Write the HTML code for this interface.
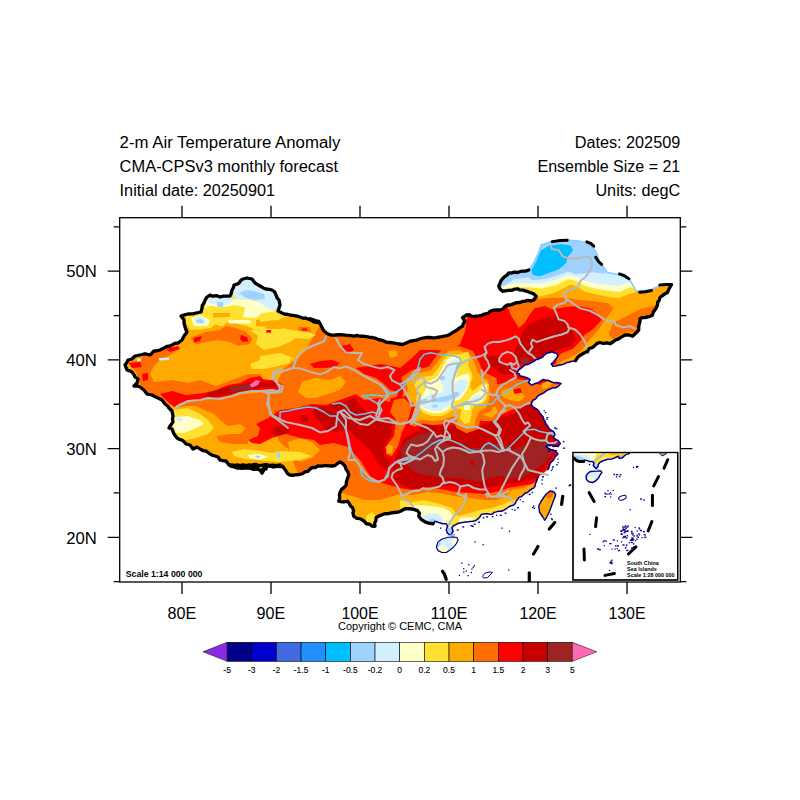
<!DOCTYPE html><html><head><meta charset="utf-8"><title>2-m Air Temperature Anomaly</title>
<style>html,body{margin:0;padding:0;background:#fff}svg{display:block}text{font-family:"Liberation Sans",sans-serif;fill:#000}</style></head><body>
<svg width="800" height="800" viewBox="0 0 800 800">
<rect width="800" height="800" fill="#fff"/>
<defs><clipPath id="cn"><path d="M125,365 L128,360 L132,359 L135,356 L140,355 L144,354 L150,355 L154,351 L160,350 L164,348 L170,346 L178,343 L182,340 L184,336 L187,332 L185,327 L184,320 L181,316 L188,314 L196,313 L201,312 L202,308 L204,303 L207,297 L210,295 L220,297 L230,296 L232,290 L234,285 L239,283 L243,279 L247,278 L252,279 L255,283 L260,286 L266,289 L272,290 L276,295 L279,300 L280,305 L278,311 L282,313 L290,315 L300,317 L308,319 L314,322 L319,323 L310,318.75 L318.75,321.25 L322.5,328.75 L327.5,333.75 L335,335 L347.5,335.5 L360,336.25 L372.5,337.5 L380,340 L390,342.5 L397.5,343.75 L402.5,344.5 L410,341.25 L420,338.75 L430,337.5 L440,337 L447.5,335.5 L455,331.25 L462.5,326.25 L465,321.25 L462.5,317.5 L466.25,315 L475,316.25 L482.5,315 L490,311.25 L500,310 L507.5,305 L520,302.5 L533.75,300 L536.25,296.25 L530,292.5 L517.5,288.75 L502.5,291.25 L498.75,286.25 L502.5,278.75 L508.75,273 L517.5,272.5 L528.75,270 L532.5,265 L538.75,252.5 L541.25,245 L552.5,241.25 L567.5,240 L580,241.25 L590,243.75 L596.25,252.5 L600,262.5 L607.5,272.5 L620,275 L630,280 L636.25,291.25 L650,290 L660,285.5 L671.25,285 L667.5,292.5 L660,297.5 L657.5,305 L652.5,315 L640,318.75 L638.75,330 L632.5,336.25 L625,335 L618.75,338.75 L610,343.75 L600,342.5 L592.5,347.5 L585,352.5 L577.5,357.5 L575.62,360.69 L570.75,361.5 L564.25,363.94 L557.75,365.56 L552.88,366.38 L551.25,363.94 L554.5,360.69 L557.75,356.62 L556.94,353.38 L552.06,351.75 L546.38,353.38 L543.12,356.62 L538.25,359.06 L531.75,362.31 L525.25,364.75 L518.75,369.62 L517.12,372.88 L520.38,376.12 L526.88,377.75 L530.12,379.38 L528.5,382.62 L531.75,385.06 L538.25,382.62 L543.12,379.38 L548,380.19 L554.5,382.62 L561,383.44 L558,386.5 L552,388 L546,391 L541.5,394 L537,397 L533.25,400 L531,403.75 L534,407.5 L538.5,410.5 L541.5,415 L543.75,419.5 L546,424 L549,428.5 L553.5,431.5 L555,434.5 L553.5,437.5 L558,440.5 L560.25,443.5 L558,446.5 L553.5,446.5 L549,445 L546,446.5 L550.5,449.5 L555,451 L558,454 L555,457 L553.5,460 L550.5,463 L549,467.5 L547.5,470.05 L538.75,476.25 L535,486.25 L527.5,492.5 L518.75,497.5 L513.75,505 L510,506.25 L506.25,508.75 L501.25,511.25 L496.25,511.88 L490,514.38 L485,513.75 L481.25,514.38 L477.5,519.38 L472.5,521.25 L467.5,521.88 L462.5,522.5 L457.5,523.75 L453.75,525.62 L451.88,527.5 L453.12,531.25 L451.25,534.38 L450,535 L447.5,533.12 L446.25,530 L447.5,526.25 L446.25,523.75 L442.5,523.75 L438.75,522.5 L435,521.25 L433.12,523.75 L433.12,523.75 L428.75,523.12 L425,521.88 L421.25,519.38 L418.75,516.25 L419.38,513.12 L417.5,510.62 L413.75,509.38 L410,508.75 L405,508.75 L395,512.5 L385,513.75 L376.25,517.5 L375,526.25 L366.25,523.75 L360,518.75 L353.75,516.25 L352.5,507.5 L347.5,501.25 L338.75,501.25 L340,492.5 L346.25,485 L348.75,475 L345,466.25 L340,462 L335,465.5 L325,465.5 L312.5,467.5 L302.5,473.75 L290,475 L282.5,466.25 L270,465.5 L261.25,471.25 L252.5,466.25 L240,467 L230,465 L280,465 L274,467 L268,466 L264,468 L262,473 L260,470 L256,469 L248,468 L240,468 L234,467 L229,465 L226,461 L220,460 L218,457 L215,456 L210,454 L206,451 L200,449 L197,447 L193,449 L190,445 L186,444 L182,440 L177,438 L174,434 L172,429 L169,428 L170,426 L173,422 L173,416 L172,411 L169,408 L165,404 L162,400 L158,398 L152,395 L147,394 L144,390 L140,387 L134,386 L137,383 L138,379 L135,377 L132,372 L127,370Z"/></clipPath><clipPath id="fr"><rect x="120" y="218" width="560" height="364"/></clipPath></defs>
<g clip-path="url(#fr)">
<g clip-path="url(#cn)"><rect x="120" y="218" width="560" height="364" fill="#ffaa00"/>
<path d="M320,325 L306,350 L296,360 L284,368 L278,380 L278,440 L290,452 L300,480 L300,600 L700,600 L700,200 L320,200Z" fill="#ff6e00"/>
<path d="M128,362 L140,360 L146,352 L160,350 L172,346 L180,348 L172,354 L160,360 L154,366 L150,374 L154,382 L172,380 L188,383 L200,380 L216,386 L232,380 L248,374 L260,374 L264,382 L280,383 L280,390 L260,390 L240,394 L220,398 L200,400 L180,404 L172,406 L160,398 L148,392 L140,384 L136,372Z" fill="#ff6e00"/>
<path d="M176,408 L186,403 L204,400 L224,398 L244,394 L264,392 L282,391 L282,436 L272,434 L258,436 L248,440 L248,444 L232,444 L220,442 L216,436 L232,434 L240,434 L246,428 L240,424 L228,426 L220,420 L214,414 L204,410 L196,406 L186,406Z" fill="#ff6e00"/>
<path d="M190,338 L206,332 L220,330 L226,326 L236,328 L246,332 L252,338 L250,344 L238,346 L230,342 L218,340 L206,342 L196,344.4Z" fill="#ff6e00"/>
<path d="M264,329 L272,328.6 L273,333.6 L265,334.4Z" fill="#ff6e00"/>
<path d="M298,327 L310,327 L311,332 L299,332.4Z" fill="#ff6e00"/>
<path d="M302,382 L316,378 L330,380 L340,376 L346,382 L340,390 L328,394 L316,398 L306,398 L298,392Z" fill="#ffaa00"/>
<path d="M388,351 L396,350 L398,356 L390,358Z" fill="#ffaa00"/>
<path d="M288,442 L300,438 L312,442 L320,450 L312,458 L300,462 L290,456Z" fill="#ffaa00"/>
<path d="M260,448 L272,446 L288,448 L290,462 L272,464 L260,462Z" fill="#ffaa00"/>
<path d="M532.75,295.31 L538.69,298.88 L551.75,297.69 L566,297.69 L580.25,300.06 L594.5,301.25 L608.75,303.62 L613.5,308.38 L606.38,317.88 L601.62,325 L596.88,332.12 L589.75,339.25 L585,346.38 L577.88,353.5 L568.38,358.25 L558.88,363 L554.12,372.5 L680,372.5 L680,230 L532.75,230Z" fill="#ffaa00"/>
<path d="M613.5,322.62 L623,317.88 L632.5,313.12 L642,308.38 L653.88,306 L663.38,300.06 L661,310.75 L653.88,314.31 L642,317.88 L639.62,327.38 L634.88,333.31 L627.75,332.12 L620.62,334.5 L613.5,339.25 L608.75,334.5 L611.12,327.38Z" fill="#ff6e00"/>
<path d="M330,480 L340,492 L352,496 L364,500 L380,500 L400,494 L412,495 L428,492 L444,494 L460,497 L470,498 L484,500 L496,500 L506,496 L512,490 L524,488 L540,480 L560,470 L560,600 L330,600Z" fill="#ffaa00"/>
<path d="M186,315 L204,309 L208,298 L230,297 L236,282 L245,278 L252,279 L260,287 L270,289 L278,296 L280,304 L278,312 L290,315 L284,317.6 L278,320 L270,322.4 L264,328.4 L256,330 L248,326.4 L236,323.2 L228,322 L222,326.4 L215,324.4 L211,328 L200,329.6 L190,330 L186,322Z" fill="#ffe132"/>
<path d="M213,313 L230,313 L230,317 L213,317.6Z" fill="#ffaa00"/>
<path d="M256,320 L274,318 L276,321 L264,327 L256,326Z" fill="#ffaa00"/>
<path d="M250,330 L258,330 L266,336 L274,336 L282,328 L292,330 L298,336 L290,342 L278,347 L264,350 L256,344 L258,336Z" fill="#ffe132"/>
<path d="M250,364 L260,360 L274,358 L288,359 L290,363 L278,366 L264,369 L252,369Z" fill="#ffe132"/>
<path d="M260,328 L276,329 L292,330 L308,332 L316,335 L308,339 L292,338 L276,337 L260,338Z" fill="#ffe132"/>
<path d="M260,314 L272,315 L276,320 L260,322Z" fill="#ffe132"/>
<path d="M260,356 L280,353 L294,358 L286,364 L272,366 L260,365Z" fill="#ffe132"/>
<path d="M174,410 L188,408 L200,414 L208,420 L214,428 L208,434 L196,438 L186,440 L176,438 L170,428 L173,418Z" fill="#ffe132"/>
<path d="M232,452 L244,449 L260,451 L272,453 L280,451 L300,452 L312,456 L300,460 L280,462 L268,461 L256,460 L244,459 L234,456Z" fill="#ffe132"/>
<path d="M494.75,293.65 L513.75,293.65 L532.75,297.45 L542.25,296.02 L551.75,293.65 L561.25,289.38 L570.75,284.62 L577.88,287 L585,291.75 L596.88,294.6 L608.75,296.98 L618.25,298.16 L627.75,294.6 L637.25,291.75 L637.25,230 L494.75,230Z" fill="#ffe132"/>
<path d="M366,516 L372,512 L378,518 L378,530 L366,526Z" fill="#ffe132"/>
<path d="M400,500 L412,502 L424,500 L440,504 L452,508 L458,516 L466,514 L480,510 L492,508 L504,504 L512,500 L520,500 L520,540 L400,540Z" fill="#ffe132"/>
<path d="M207,299 L230,297.6 L236,299 L250,300 L260,302 L270,308 L275,311.4 L262,313 L256,318 L243,317.2 L245,307 L234,305.2 L220,307.4 L210,305.6 L204.4,309Z" fill="#ffffc8"/>
<path d="M228,320 L250,320 L251,323.6 L229,323.6Z" fill="#ffffc8"/>
<path d="M191,318 L200,315 L210,320 L208,326 L194,326Z" fill="#ffffc8"/>
<path d="M175,417 L188,416 L200,420 L204,424 L196,428 L184,433 L176,433 L173,426Z" fill="#ffffc8"/>
<path d="M248,455 L260,454 L268,457 L260,459.6 L250,458.4Z" fill="#ffffc8"/>
<path d="M494.75,290.09 L504.25,289.38 L513.75,287.24 L528,287.24 L542.25,288.43 L556.5,284.86 L568.38,278.93 L576.69,281.3 L585,286.05 L596.88,288.9 L608.75,290.8 L619.44,291.99 L630.12,287.24 L636.06,287.95 L637.25,230 L494.75,230Z" fill="#ffffc8"/>
<path d="M236,282 L245,278 L252,279 L260,287 L270,289 L278,296 L280,304 L276,311 L266,307 L258,301.4 L248,300 L236,298.4 L231.6,292Z" fill="#d2f0ff"/>
<path d="M208,298 L230,297 L235,299 L230,303 L222,307 L213,304 L207,302Z" fill="#d2f0ff"/>
<path d="M193.6,319 L200,316.4 L206,320 L204,324.4 L196,323.6Z" fill="#d2f0ff"/>
<path d="M176,418 L182,417 L184,420 L178,422Z" fill="#d2f0ff"/>
<path d="M137,359 L141,358.4 L141,361 L137,361.4Z" fill="#d2f0ff"/>
<path d="M159,358 L169,357.6 L169,360 L159,360.4Z" fill="#d2f0ff"/>
<path d="M494.75,287.71 L499.5,287 L513.75,283.44 L528,283.44 L542.25,283.44 L556.5,279.4 L568.38,274.65 L577.88,277.26 L585,280.82 L596.88,283.44 L608.75,285.1 L619.44,286.29 L627.75,282.73 L634.88,285.1 L637.25,230 L494.75,230Z" fill="#d2f0ff"/>
<path d="M239,293 L246,290 L254,291 L264,294 L265,299 L256,300 L246,298Z" fill="#a0d2ff"/>
<path d="M217,302 L223,302 L223,307 L217.6,307Z" fill="#a0d2ff"/>
<path d="M196,320 L202,319 L204,323 L198,323Z" fill="#a0d2ff"/>
<path d="M255,456.4 L258,455.2 L261,456.8 L258,458.4Z" fill="#a0d2ff"/>
<path d="M276,454 L280,452 L280,458 L277,457.6Z" fill="#a0d2ff"/>
<path d="M497.12,287 L504.25,285.81 L513.75,279.16 L528,277.5 L532.75,280.35 L547,278.69 L558.88,275.12 L568.38,271.56 L575.5,273.94 L585,273.23 L594.5,272.27 L604,273.94 L608.75,270.38 L608.75,230 L497.12,230Z" fill="#a0d2ff"/>
<path d="M531.56,270.38 L536.31,260.88 L541.06,250.19 L549.38,245.44 L561.25,244.25 L570.75,245.44 L573.12,250.19 L568.38,256.12 L566,263.25 L558.88,269.19 L549.38,272.75 L539.88,276.31 L532.75,275.12Z" fill="#00bfff"/>
<path d="M160,394 L172,391 L186,395 L204,393 L216,390 L228,385 L240,383 L250,378 L260,376 L264,380 L264,387 L280,386 L280,390 L264,391 L244,392.4 L228,396 L208,399 L192,400 L180,403 L174,407 L168,402Z" fill="#ff0000"/>
<path d="M129,363 L140,362 L142,367 L132,368Z" fill="#ff0000"/>
<path d="M142,374 L148,373 L148,380 L143,381Z" fill="#ff0000"/>
<path d="M166,349 L178,346 L180,349 L170,352Z" fill="#ff0000"/>
<path d="M241,335 L247,337 L248.4,341.6 L243,342 L240,339Z" fill="#ff0000"/>
<path d="M193.6,338 L202,336 L200,341 L194,342.4Z" fill="#ff0000"/>
<path d="M266.4,330 L271,330 L271,332.8 L266.4,332.8Z" fill="#ff0000"/>
<path d="M302,328.4 L307,328.4 L307,330.4 L302,330.4Z" fill="#ff0000"/>
<path d="M310,364 L320,361 L332,360 L340,363 L336,367 L324,368 L314,368Z" fill="#ff0000"/>
<path d="M342,346 L350,344 L354,350 L348,354 L343,351Z" fill="#ff0000"/>
<path d="M260,379 L272,380 L282,384 L280,390 L268,390 L260,389Z" fill="#ff0000"/>
<path d="M356,368 L368,366 L380,364 L392,366 L400,368 L412,358 L420,350 L436,350 L450,352 L460,344 L465,332 L468,312 L480,310 L495,306 L506,303 L510.6,314.4 L515.5,322.5 L518.75,328 L525,322.5 L530,314 L535,308 L545,306 L552,309.6 L566,307 L578,306 L590,308.4 L597,313 L601.6,320 L597,325 L592,330 L585,334.5 L580,341.6 L573,348.75 L561,353.5 L556.5,359.4 L556,364 L545,368 L535,372 L535,384 L545,378 L562,382 L548,392 L540,400 L560,430 L565,445 L556,456 L548,468 L540,478 L532,484 L520,486 L508,488 L496,492 L484,494 L472,493 L456,492 L440,489 L426,487 L412,490 L400,488 L396,487 L382,483 L370,476 L360,460 L348,447 L334,443 L320,445 L314,440 L300,438 L286,434 L272,438 L260,444 L252,443 L248,440 L258,436 L260,428 L256,424 L264,420 L268,418 L280,410 L296,408 L312,404 L326,405 L340,400 L356,394 L364,400 L380,398 L388,402 L396,400 L398,392 L390,390 L384,384 L376,378 L364,374Z" fill="#ff0000"/>
<path d="M206,393.6 L216,390.4 L228,387 L240,384.4 L248,383 L260,383 L260,388 L244,391 L228,394 L214,397 L206,397Z" fill="#c80000"/>
<path d="M274,428 L280,427 L280,434 L274,434Z" fill="#c80000"/>
<path d="M314,408 L326,406 L340,404 L354,398 L360,404 L368,414 L380,418 L392,422 L396,434 L392,448 L384,454 L380,446 L372,438 L364,430 L356,428 L344,430 L336,432 L326,430 L320,422 L312,414Z" fill="#c80000"/>
<path d="M271,430 L278,426 L288,427 L290,432 L280,435 L272,434Z" fill="#c80000"/>
<path d="M300,417 L304,414 L309,417 L307,422 L301,421.6Z" fill="#c80000"/>
<path d="M260,382 L276,382.4 L276,387 L260,387Z" fill="#c80000"/>
<path d="M320,409 L320,422 L332,426 L338,418 L346,426 L356,438 L366,446 L374,456 L380,466 L388,470 L390,462 L396,456 L400,448 L394,442 L388,452 L384,448 L388,440 L392,430 L388,422 L380,418 L368,420 L356,416 L344,412 L336,408 L328,407Z" fill="#c80000"/>
<path d="M396,448 L404,438 L416,432 L432,430 L444,426 L460,426 L480,428 L480,484 L468,486 L456,484 L444,486 L432,486 L420,489 L408,488 L400,484 L394,478 L392,468 L396,458Z" fill="#c80000"/>
<path d="M420,424 L440,426 L460,428 L480,426 L500,418 L520,412 L540,412 L552,420 L560,440 L556,452 L544,470 L536,478 L524,482 L508,484 L496,486 L484,488 L472,488 L456,486 L440,482 L424,480Z" fill="#c80000"/>
<path d="M523.25,329.75 L532.75,322.62 L544.62,317.88 L556.5,315.5 L566,320.25 L568.38,327.38 L573.12,332.12 L575.5,339.25 L570.75,346.38 L561.25,348.75 L554.12,351.12 L542.25,355.88 L532.75,363 L525.62,367.75 L518.5,363 L513.75,353.5 L518.5,341.62Z" fill="#c80000"/>
<path d="M520,407.5 L530,404 L542.5,405.5 L547.5,420 L522.5,423.75 L510,420Z" fill="#c80000"/>
<path d="M487.06,356.62 L497.62,355 L500.88,361.5 L510.62,366.38 L517.12,371.25 L513.88,374.5 L502.5,374.5 L494.38,368 L487.88,364.75Z" fill="#c80000"/>
<path d="M229,388 L240,385 L250,384 L258,386 L248,389.6 L232,392.4Z" fill="#a02323"/>
<path d="M400,450 L408,440 L420,434 L432,433 L440,438 L448,446 L460,448 L480,448 L480,478 L468,480 L456,476 L444,478 L432,476 L420,474 L412,470 L404,462Z" fill="#a02323"/>
<path d="M420,435 L430,432 L440,440 L452,446 L466,448 L480,448 L488,444 L504,444 L512,450 L524,446 L536,440 L548,442 L555,450 L547,460 L537.6,467.6 L526,475.6 L512,479 L500,476 L488,478 L480,482 L472,480 L460,478 L448,478 L436,474 L424,471Z" fill="#a02323"/>
<path d="M519.69,358.25 L528,357.06 L529.9,365.38 L522.06,367.27Z" fill="#a02323"/>
<path d="M470.4,461 L473.6,459.6 L474.8,464.4 L471.2,466Z" fill="#c80000"/>
<path d="M249.6,385 L256,380 L260,381 L258,385 L252,387.6Z" fill="#ff69b4"/>
<path d="M484.5,379 L495,385 L507,382 L516,379 L528,380.5 L540,385 L547.5,382 L555,383.5 L561,384.25 L547.5,391 L538.5,395.5 L534,400 L528,404.5 L519,407.5 L510,410.5 L501,415 L492,421 L480,421 L477,415 L486,407.5 L489,397 L487.5,388Z" fill="#ff6e00"/>
<path d="M501,391 L510,388 L520.5,391 L525,397 L519,401.5 L510,400 L502.5,397Z" fill="#ffaa00"/>
<path d="M484.5,404.5 L495,406 L498,412 L492,418 L483,415Z" fill="#ffaa00"/>
<path d="M541.5,383.5 L547.5,381.25 L553.5,382.75 L547.5,388 L542.25,388.75Z" fill="#ffaa00"/>
<path d="M513,389.5 L520.5,388 L522,392.5 L514.5,394Z" fill="#ff0000"/>
<path d="M401.38,377.12 L412.75,369.81 L422.5,368.19 L429,366.56 L433.88,359.25 L438.75,352.75 L446.88,347.06 L459.88,346.25 L472.88,351.12 L478.56,360.88 L481.81,369.81 L487.5,373.88 L496.44,377.94 L498.06,391.75 L496.44,403.12 L490.75,411.25 L482.62,414.5 L480.19,419.38 L478.56,429.12 L466.38,433.19 L456.62,428.31 L453.38,420.19 L448.5,421.81 L442,424.25 L432.25,425.06 L422.5,423.44 L414.38,426.69 L404.62,420.19 L400.56,408 L402.19,398.25 L403.81,388.5Z" fill="#ff6e00"/>
<path d="M406.25,378.75 L414.38,373.88 L422.5,372.25 L430.62,370.62 L437.12,362.5 L442,356 L448.5,351.12 L459.88,350.31 L469.62,354.38 L474.5,362.5 L477.75,372.25 L481.81,377.12 L488.31,380.7 L489.94,391.75 L488.8,401.5 L485.55,408 L479.38,411.25 L476.12,417.75 L474.5,425.88 L466.38,429.12 L458.25,424.25 L455,416.12 L448.5,417.75 L442,420.19 L432.25,421 L422.5,419.38 L414.38,422.62 L407.88,417.75 L404.62,408 L406.25,398.25 L407.88,388.5Z" fill="#ffaa00"/>
<path d="M417.62,378.75 L422.5,377.12 L432.25,375.5 L438.75,367.38 L443.62,359.25 L448.5,354.38 L458.25,354.38 L463.94,352.91 L468,351.94 L469.95,356.98 L468,363.96 L469.95,369.98 L473.04,375.01 L472.06,382 L469.95,388.01 L474.01,389.96 L480.02,384.93 L486.04,382 L488.96,384.93 L487.99,391.91 L486.04,400.04 L481.98,403.94 L474.01,406.05 L472.06,409.95 L471.25,416.12 L469.62,422.62 L464.75,424.25 L459.88,417.75 L461.5,409.62 L455,408 L448.5,412.88 L442,416.12 L432.25,416.12 L424.12,413.69 L417.62,408 L416,399.88 L417.62,391.75 L414.38,385.25Z" fill="#ffe132"/>
<path d="M424.12,383.62 L430.62,380.38 L437.12,377.12 L443.62,365.75 L446.88,359.25 L451.75,356.81 L459.06,357.62 L459.88,362.5 L457.44,372.25 L455,378.75 L454.19,388.5 L455,398.25 L452.56,403.94 L448.5,409.62 L442,412.88 L433.88,413.69 L425.75,411.25 L419.25,406.38 L419.25,401.5 L422.5,395 L425.75,388.5Z" fill="#ffffc8"/>
<path d="M455,377.94 L459.06,375.99 L463.94,374.04 L468.98,373.55 L469.95,377.94 L468.98,383.95 L467.02,389.96 L462.96,395.98 L459.06,400.04 L455,401.01 L453.54,395.98 L454.51,387.04Z" fill="#ffffc8"/>
<path d="M467.02,401.99 L472.06,395.98 L478.07,391.99 L484.01,383.95 L487.01,384.93 L486.04,394.02 L481.98,401.99 L474.01,404.43 L468,404.99Z" fill="#ffffc8"/>
<path d="M471.25,370.62 L477.75,373.88 L481.81,378.75 L477.75,386.88 L472.06,390.94 L470.44,383.62 L472.88,377.12Z" fill="#ffaa00"/>
<path d="M463.94,404.99 L469.95,405.48 L469.95,409.95 L464.51,409.95Z" fill="#ffffc8"/>
<path d="M419.25,403.12 L422.5,398.25 L429,395 L433.88,390.12 L440.38,383.62 L443.62,377.12 L445.25,369 L448.5,362.5 L455,359.25 L459.06,360.88 L458.25,367.38 L455,373.88 L453.38,382 L452.56,390.12 L453.38,398.25 L451.75,403.12 L448.5,406.38 L442,409.62 L435.5,411.25 L429,409.62 L422.5,407.19Z" fill="#d2f0ff"/>
<path d="M455.49,382 L460.04,380.05 L466.05,380.05 L468,382.98 L466.05,388.99 L461.99,394.02 L458.01,398.01 L455,398.01 L454.02,391.99Z" fill="#d2f0ff"/>
<path d="M468.98,401.01 L474.01,395.98 L480.02,394.02 L481.98,395.98 L480.02,401.01 L474.01,402.48Z" fill="#d2f0ff"/>
<path d="M454.51,391.99 L458.51,391.49 L459.01,395 L455.49,397.5 L454.02,395.98Z" fill="#a0d2ff"/>
<path d="M426.56,383.62 L437.12,381.68 L443.62,385.25 L442,392.56 L433.88,393.38 L426.56,391.75Z" fill="#ffffc8"/>
<path d="M439.56,376.31 L444.44,375.5 L445.25,379.56 L440.7,380.7Z" fill="#a0d2ff"/>
<path d="M430.62,399.06 L438.75,397.44 L446.88,395.81 L452.56,394.19 L453.38,398.25 L446.88,401.5 L438.75,402.31 L431.44,402.31Z" fill="#a0d2ff"/>
<path d="M432.25,404.75 L437.12,404.43 L437.45,407.19 L432.57,407.51Z" fill="#a0d2ff"/>
<path d="M420.88,399.88 L426.56,398.25 L427.38,401.5 L421.69,403.12Z" fill="#a0d2ff"/>
<path d="M391,398 L406,396 L415,406 L411,421 L405,433 L401,447 L394,459 L384,457 L385,444 L391,436 L393,420 L387,412Z" fill="#ff0000"/>
<path d="M394,400 L404,398 L412,406 L408,420 L402,432 L398,446 L392,456 L386,454 L388,444 L394,436 L396,420 L390,412Z" fill="#ff6e00"/>
<path d="M385.6,447 L389,444 L393,447 L392,453 L387,453.6Z" fill="#ffaa00"/>
<path d="M410,506.25 L420,505 L432.5,506.25 L442.5,507.5 L450,511.25 L453.75,517.5 L451.25,522.5 L446.25,524.38 L435,521.88 L425,521.25 L417.5,515 L410,511.25Z" fill="#ffffc8"/>
<path d="M422.5,516.25 L428.75,513.75 L437.5,513.75 L443.12,518.12 L443.75,523.12 L435,521.88 L426.25,521.25Z" fill="#d2f0ff"/>
<path d="M428.75,519.38 L434.38,518.5 L435.62,521.5 L430,522Z" fill="#a0d2ff"/>
<path d="M446.62,524 L453.12,526.25 L453.38,531.25 L451.5,534.75 L449.38,534.75 L446.5,530Z" fill="#d2f0ff"/>
<path d="M448.12,527.5 L451.88,528.12 L451.88,533.12 L449.75,533.75 L447.88,530.62Z" fill="#a0d2ff"/>
<path d="M459.38,518.12 L467.5,516.88 L475,517.5 L472.5,521.25 L463.75,522.25 L458.75,521.88Z" fill="#ffffc8"/>
</g>
<g fill="none" stroke="#6ec6ee" stroke-width="1.5" stroke-linejoin="round">
<path d="M452.55,407.8 L459,405.7 L468,403.75 L480,405.25 L492,403.75 L498,397 L507,391 L516,385 L525,381.25 L531,379.75"/>
<path d="M480,451.75 L484.5,445 L489,442.75 L495,446.5 L501,451 L507,449.5 L511.5,445 L516,440.5 L522,434.5 L526.5,430 L534,429.25 L540,431.5 L547.5,433 L553.5,432.25"/>
<path d="M280,419 L280,412 L288,411 L296,409 L308,407 L316,408 L324,412 L330,416 L336,416"/>
<path d="M332,404 L340,403 L346,406 L350,412 L356,415 L364,414 L372,412 L380,414 L382,410 L378,404 L368,398 L362,396 L372,395 L384,396 L396,392 L402,388 L404,384"/>
<path d="M380.25,383.62 L385.12,388.5 L390,393.38 L396.5,392.56 L401.38,388.5 L406.25,383.62 L411.12,375.5 L417.62,369 L420.06,359.25 L424.12,354.38 L430.62,352.75 L438.75,354.38 L446.88,355.19 L455,356 L459.88,358.44 L461.5,362.5 L458.25,367.38 L455,373.88 L452.56,382 L452.56,390.12 L454.19,398.25 L451.75,404.75 L452.56,408"/>
<path d="M336,416 L344,426 L348,436 L350,446 L354,458 L360,466 L362,476 L368,480 L376,482 L384,480 L390,468 L396,462 L406,460 L414,458 L422,452 L432,444 L440,440 L450,440 L460,444 L470,450 L480,452"/>
</g>
<g fill="none" stroke="#b9b9b9" stroke-width="2" stroke-linejoin="round" stroke-linecap="round">
<path d="M175,409 L180,405 L188,401 L200,400 L208,398 L220,399 L232,396 L240,393 L252,391 L260,391 L268,393"/>
<path d="M268,393 L278,392.4 L280,388 L275,380 L273,373 L280,369"/>
<path d="M326,336 L324.4,341 L310,347 L300,353 L296,360 L293,368 L274,374 L272,377 L278,384 L283,387 L281,392 L272,390 L260,391"/>
<path d="M268,393 L269,398 L267,404 L270,410 L272,416 L278,420 L288,428"/>
<path d="M268,398 L269,406 L270,414 L280,419.4 L286,422 L300,425 L312,428 L320,432.4 L328,431 L336,426.4 L337,418 L338,412.4 L344,410 L348,414 L354,420.4 L360,424 L368,425 L376,419.4 L380,419"/>
<path d="M293,368 L300,368.4 L312,372.4 L320,374.4 L326,372.4 L334,367 L340,368.4 L346,366.4 L354,370 L364,376 L372,380 L380,384.4 L385,390 L388,396 L384,400 L380,404 L378,410 L376,416 L380,419"/>
<path d="M336,338 L340,346 L346,352.4 L356,353 L362,353 L358,360 L364,364 L372,366.4 L380,368.4 L388,367 L394.4,370 L390,376 L392,380.4 L400,384.4 L404.4,382 L412,378 L418,372.4 L420,368"/>
<path d="M380,419 L388,418 L396,422.4 L400,424.4 L408,422.4 L412,419.4 L416,410 L420,404"/>
<path d="M400,384.4 L404.4,390 L408.4,398 L412,406 L418,404 L420,398"/>
<path d="M417.62,369 L414.38,372.25 L411.94,377.12 L414.38,382 L418.44,378.75 L421.69,377.12 L424.12,378.75 L424.94,382 L420.88,385.25 L417.62,386.88 L416.81,391.75 L420.06,395 L418.44,399.88 L416.81,404.75 L419.25,408 L417.62,414.5 L412.75,417.75 L411.12,424.25"/>
<path d="M424.94,382 L430.62,383.62 L437.12,380.38 L442,373.88 L445.25,369 L446.88,365.75 L451.75,364.12 L458.25,363.31 L463.12,362.5 L471.25,358.44 L481,356 L486.69,352.75 L484.57,346.9"/>
<path d="M424.94,382 L425.75,386.88 L432.25,388.5 L437.12,390.94 L435.5,395 L432.25,396.62 L435.5,399.88 L429,401.5 L422.5,403.12 L419.25,401.5"/>
<path d="M458.25,363.31 L455,373.88 L452.56,382 L452.56,390.12 L454.19,398.25 L451.75,404.75 L452.56,408 L455,411.25 L456.62,417.75 L450.12,421 L446.88,425.88 L445.25,432.38 L443.62,440.01"/>
<path d="M567.5,299.75 L564.25,303 L557.75,304.62 L553.69,307.88 L556.12,312.75 L558.56,319.25 L564.25,320.88 L567.5,324.12 L569.12,329 L567.5,332.25 L561,334.69 L554.5,336.31 L546.38,338.75 L541.5,340.38 L536.62,342 L532.56,339.56 L530.94,343.62 L532.56,346.88 L530.12,350.12 L528.5,353.38 L531.75,355 L535,358.25 L537.44,359.88"/>
<path d="M528.5,353.38 L525.25,350.12 L520.38,343.62 L518.75,338.75 L515.5,336.31 L510.62,338.75 L505.75,340.38 L499.25,342 L492.75,342 L487.88,343.62 L484.62,346.88 L486.25,351.75 L484.62,356.62 L487.88,361.5 L489.5,366.38 L486.25,371.25 L482.19,376.12"/>
<path d="M499.25,358.25 L502.5,354.19 L507.38,351.75 L512.25,353.38 L515.5,356.62 L517.12,361.5 L513.88,364.75 L510.62,363.12 L507.38,364.75 L502.5,363.12 L499.25,361.5 L499.25,358.25"/>
<path d="M510.62,363.12 L512.25,368 L517.12,369.62 L518.75,366.38 L517.12,361.5"/>
<path d="M550.56,245.44 L551.75,249 L558.88,250.19 L562.44,256.12 L568.38,258.5 L577.88,258.5 L585,256.12 L590.94,258.5 L592.12,265.62 L588.56,272.75 L585,277.5 L580.25,281.06 L577.88,287 L570.75,289.38 L563.62,292.94 L566,298.88 L568.38,300.06"/>
<path d="M568.38,300.06 L573.12,303.62 L580.25,308.38 L589.75,310.75 L596.88,314.31 L604,319.06 L608.75,321.44 L613.5,320.25 L615.88,325 L623,327.38 L630.12,326.19 L634.88,328.56"/>
<path d="M568.38,327.38 L575.5,329.75 L580.25,334.5 L585,341.62 L587.38,348.75 L588.56,353.5"/>
<path d="M508,450 L520,456 L524,462 L528,470 L540,473 L548,475"/>
<path d="M520,456 L516,462 L512,468 L508,476 L504,484 L500,492 L496,497 L504,496 L510,498 L514,504"/>
<path d="M466,494 L464,504 L460,510 L454,516 L450,522 L448,526"/>
<path d="M346,430 L348,440 L350,452 L348,460 L356,460 L360,466 L364,472 L370,478 L378,482 L384,480 L388,476 L389,468 L396,462 L404,464 L412,460 L416,458"/>
<path d="M340,412 L346,420 L346,430"/>
<path d="M340,412 L348,418 L360,420 L370,416 L378,420 L380,412 L378,404 L380,400"/>
<path d="M378,420 L388,422 L400,424 L410,422 L416,418 L418,410 L420,400"/>
<path d="M510,370 L514.5,373 L516,377.5 L510,380.5 L502.5,385 L498,389.5 L496.5,394 L493.5,395.5 L486,392.5 L481.5,389.5"/>
<path d="M481.5,370 L482.25,377.5 L483.75,385 L486,392.5 L481.5,398.5 L474,401.5 L466.5,402.25 L459,405.25 L452.55,407.95"/>
<path d="M496.5,394 L499.5,400 L505.5,406 L510,405.25 L514.5,407.5 L520.5,407.5 L525,404.5 L529.5,403 L531.75,403.75"/>
<path d="M505.5,406 L502.5,410.5 L499.5,413.5 L498,418 L493.5,421.75 L496.5,425.5 L499.5,428.5 L498,434.5 L501,440.5 L502.5,446.5 L504,450.25"/>
<path d="M514.5,407.5 L519,413.5 L522,419.5 L525,424 L528,422.5 L530.25,425.5 L526.5,428.5 L523.5,431.5 L526.5,434.5 L531,437.5 L534,439 L540,440.5 L546,440.5 L547.5,434.5 L550.5,433 L553.5,434.5"/>
<path d="M531,437.5 L528,443.5 L525,449.5 L522,454 L523.5,460 L525,466 L523.5,470.05 L520.5,475 L519,479.5"/>
<path d="M546,440.5 L549,443.5 L555,442.75 L558,440.5"/>
<path d="M412.5,422 L420,425 L427.5,428 L433.5,432.5 L436.5,437 L441,435.5 L447,437.75 L450,435.5 L445.5,429.5 L444,423.5 L445.5,420.5 L453,421.25 L456,417.5 L454.5,413 L456,410"/>
<path d="M445.5,420.5 L453,422 L460.5,425 L468,428 L475.5,426.5 L483,429.5 L489,432.5 L495,435.5 L499.5,434 L501,429.5 L498,425 L495,422 L498,417.5 L501,413 L505.5,410"/>
<path d="M433.5,432.5 L430.5,437 L427.5,441.5 L423,444.5 L417,446 L411,444.5 L408,449 L406.5,453.5 L411,456.5 L415.5,458 L420,459.5 L427.5,455 L432,456.5 L435,461 L438,459.5 L436.5,453.5 L435,449 L438,444.5 L441,442.25 L445.5,440 L450,438.5 L450,435.5"/>
<path d="M438,447.5 L442.5,452 L447,449 L453,447.5 L459,448.25 L465,450.5 L469.5,452.75 L475.5,452 L480,451.25"/>
<path d="M442.5,452 L444,458 L443.25,465.5 L441,470 L439.5,474.5 L442.5,477.5 L444,482 L442.5,483.5"/>
<path d="M480,451.25 L483,455 L484.5,462.5 L482.25,470 L483,477.5 L484.5,485 L486,489.5 L489,494 L487.5,497"/>
<path d="M480,451.25 L486,450.5 L492,450.5 L498,452 L504,450.5 L510,449"/>
<path d="M495,435.5 L498,440 L501,446 L502.5,450.5"/>
<path d="M442.5,483.5 L439.5,486.5 L433.5,488 L427.5,489.5 L423,488 L418.5,491 L412.5,491 L406.5,494 L402,495.5 L400.5,492.5 L397.5,486.5 L394.5,482 L391.5,477.5 L393,473 L397.5,470 L402,468.5 L400.5,464 L397.5,461 L402,459.5 L406.5,458 L411,456.5"/>
<path d="M442.5,483.5 L450,482 L456,483.5 L460.5,486.5 L459,491 L457.5,494 L462,495.5 L466.5,497"/>
<path d="M460.5,486.5 L468,485 L474,488 L480,489.5 L486,489.5"/>
<path d="M486,494 L492,497 L498,495.5 L502.5,494 L508.5,491"/>
<path d="M402,495.5 L403.5,500 L409.5,501.5 L412.5,506 L414,510.05"/>
</g>
<path d="M575.62,360.69 L572.87,361.15 L570.75,361.5 L568.43,362.44 L566.57,362.61 L564.25,363.94 L561.5,364.88 L559.63,364.7 L557.75,365.56 L555.91,365.93 L552.88,366.38 L551.25,363.94 L553.28,362.29 L554.5,360.69 L556.29,358.24 L557.75,356.62 L556.94,353.38 L554.66,353.01 L552.06,351.75 L549.25,352.85 L546.38,353.38 L544.96,354.48 L543.12,356.62 L540.99,357.95 L538.25,359.06 L535.84,359.58 L534.36,361.19 L531.75,362.31 L529.85,363.58 L527.67,364.44 L525.25,364.75 L522.96,366.73 L520.85,368.52 L518.75,369.62 L517.12,372.88 L519.2,374.02 L520.38,376.12 L522.11,376.32 L525.27,377.13 L526.88,377.75 L530.12,379.38 L528.5,382.62 L531.75,385.06 L534.07,384.01 L536.09,383.3 L538.25,382.62 L540.51,381.1 L543.12,379.38 L545.66,380.27 L548,380.19 L550.39,381.51 L552.76,382.4 L554.5,382.62 L557.96,382.63 L561,383.44 L558,386.5 L555.43,387.81 L552,388 L550.49,389.08 L548.26,389.65 L546,391 L544.15,392.59 L541.5,394 L538.99,394.98 L537,397 L535.55,399.09 L533.25,400 L531,403.75 L532.01,405.99 L534,407.5 L536.14,408.58 L538.5,410.5 L539.75,413.07 L541.5,415 L543.07,416.7 L543.75,419.5 L545.01,421.2 L546,424 L547.76,426.05 L549,428.5 L551.71,430.58 L553.5,431.5 L555,434.5 L553.5,437.5 L555.76,439.6 L558,440.5 L560.25,443.5 L558,446.5 L555.52,445.99 L553.5,446.5 L551.37,445.19 L549,445 L546,446.5 L547.89,447.89 L550.5,449.5 L552.88,449.84 L555,451 L558,454 L555,457 L553.5,460 L550.5,463 L549.2,465.69 L549,467.5 L547.5,470.05" fill="none" stroke="#00008b" stroke-width="1.5" stroke-linejoin="round"/>
<path d="M538.75,476.25 L537.5,478.27 L536.75,480.84 L535.42,483.63 L535,486.25 L533.63,488.17 L531.57,489.04 L529.42,490.67 L527.5,492.5 L524.92,493.28 L522.78,495.51 L521.33,496.62 L518.75,497.5 L517.86,499.01 L516.02,501.4 L515.28,503.55 L513.75,505 L510,506.25 L508.58,507 L506.25,508.75 L503.88,510.21 L501.25,511.25 L498.76,511.18 L496.25,511.88 L494.13,512.22 L492.6,513.99 L490,514.38 L487.56,513.83 L485,513.75 L481.25,514.38 L479.87,516.97 L477.5,519.38 L475.46,520.73 L472.5,521.25 L470.01,521.46 L467.5,521.88 L465.12,522.11 L462.5,522.5 L459.59,522.89 L457.5,523.75 L453.75,525.62 L451.88,527.5 L453.12,531.25 L451.25,534.38 L450,535 L447.5,533.12 L446.25,530 L447.5,526.25 L446.25,523.75 L442.5,523.75 L438.75,522.5 L435,521.25 L433.12,523.75" fill="none" stroke="#00008b" stroke-width="1.5" stroke-linejoin="round"/>
<path d="M528.75,270 L532.5,265 L538.75,252.5 L541.25,245 L552.5,241.25 L567.5,240 L580,241.25 L590,243.75 L596.25,252.5 L600,262.5 L607.5,272.5 L620,275 L630,280 L636.25,291.25 L650,290 L660,285.5 L671.25,285" fill="none" stroke="#87cefa" stroke-width="1.6"/>
<path d="M552.23,241.64 L560.06,240.45 L567.19,240.21" fill="none" stroke="#000" stroke-width="3" stroke-linecap="round"/>
<path d="M586.9,241.88 L590.94,243.54 L593.79,246.15" fill="none" stroke="#000" stroke-width="3" stroke-linecap="round"/>
<path d="M595.69,257.31 L598.3,261.35 L601.62,264.44" fill="none" stroke="#000" stroke-width="3" stroke-linecap="round"/>
<path d="M619.44,273.94 L624.19,275.6 L628.94,278.69" fill="none" stroke="#000" stroke-width="3" stroke-linecap="round"/>
<path d="M639.62,292.23 L645.56,291.75 L651.5,290.56" fill="none" stroke="#000" stroke-width="3" stroke-linecap="round"/>
<path d="M659.81,285.1 L665.75,284.62 L671.69,284.62" fill="none" stroke="#000" stroke-width="3" stroke-linecap="round"/>
<path d="M433.12,523.75 L433.12,523.75 L428.75,523.12 L425,521.88 L421.25,519.38 L418.75,516.25 L419.38,513.12 L417.5,510.62 L413.75,509.38 L410,508.75 L405,508.75 L402.68,510.05 L400.44,511.29 L397.86,512.2 L395,512.5 L390.96,512.87 L389,513.56 L385,513.75 L382.68,514.42 L379.12,515.87 L376.25,517.5 L375.9,520.53 L374.69,522.91 L375,526.25 L371.75,526.04 L369.57,524.07 L366.25,523.75 L364.61,521.54 L362.26,519.86 L360,518.75 L356.13,518.06 L353.75,516.25 L352.9,512.91 L353.64,510.98 L352.5,507.5 L350.52,506.11 L349.23,503.6 L347.5,501.25 L344.14,501.91 L341.95,501.95 L338.75,501.25 L339.76,498.03 L339.38,494.92 L340,492.5 L341.55,489.35 L343.87,487.65 L346.25,485 L346.34,481.93 L347.67,478.05 L348.75,475 L347.98,472.05 L345.97,469.14 L345,466.25 L342.81,463.46 L340,462 L338.21,463.03 L335,465.5 L332.04,466.02 L327.61,465.93 L325,465.5 L321.67,466.12 L318.01,465.82 L315.15,467.68 L312.5,467.5 L309.54,469.45 L308.14,471.29 L304.77,471.97 L302.5,473.75 L299.41,474.48 L295.66,474.75 L293.57,475.23 L290,475 L287.43,473.48 L285.64,470.39 L284.54,469.06 L282.5,466.25 L279.13,466.7 L276.32,465.59 L272.85,465.2 L270,465.5 L267.18,466.41 L265.91,469.12 L262.93,469.14 L261.25,471.25 L259.06,469.63 L255.28,467.52 L252.5,466.25 L249.52,466.93 L246.18,466.51 L242.46,467.44 L240,467 L235.97,466.32 L233.84,465.11 L230,465 L232.98,465.67 L235.46,465.43 L237.3,464.9 L240,465.52 L242.85,464.93 L246.54,465.53 L249.14,464.93 L251.03,465.34 L253.65,464.69 L256.17,464.47 L258.76,465.73 L262.27,465.19 L264.21,464.76 L266.23,464.66 L269.9,465.55 L271.9,465.43 L275.15,465.29 L277.61,465.39 L280,465 L276.8,466.31 L274,467 L270.67,466.48 L268,466 L264,468 L263.4,470.79 L262,473 L260,470 L256,469 L253.02,469.33 L250.89,468.45 L248,468 L244.6,468.07 L242.29,468.26 L240,468 L236.94,467.98 L234,467 L231.72,466.45 L229,465 L226,461 L222.77,460.72 L220,460 L218,457 L215,456 L212.86,455.49 L210,454 L206,451 L202.78,450.51 L200,449 L197,447 L193,449 L190,445 L186,444 L184.55,442.28 L182,440 L180.21,439.68 L177,438 L174,434 L173.03,431.54 L172,429 L169,428 L170,426 L173,422 L172.5,419.5 L173,416 L172,411 L169,408 L167.66,405.97 L165,404 L162,400 L158,398 L155.29,396.83 L152,395 L147,394 L144,390 L140,387 L137.35,386.01 L134,386 L137,383 L138,379 L135,377 L133.92,374.62 L132,372 L129.75,370.88 L127,370 L126.19,367.91 L125,365 L126.71,362.83 L128,360 L132,359 L135,356 L140,355 L144,354 L146.29,353.99 L150,355 L151.91,353.23 L154,351 L156.58,350.78 L160,350 L164,348 L167.2,346.31 L170,346 L172.62,344.59 L174.66,343.45 L178,343 L182,340 L184,336 L187,332 L185.73,329.02 L185,327 L184.04,322.8 L184,320 L181,316 L184.45,314.82 L188,314 L190.83,313.8 L192.94,313.94 L196,313 L201,312 L202,308 L202.25,305.36 L204,303 L205.17,299.87 L207,297 L210,295 L212.76,296.16 L216.48,295.64 L220,297 L223.5,296.06 L226.73,296.09 L230,296 L231.12,293.69 L232,290 L233.48,287.38 L234,285 L236.97,284.21 L239,283 L240.8,280.46 L243,279 L247,278 L252,279 L255,283 L257.64,284.6 L260,286 L263.69,288.2 L266,289 L269.16,289.28 L272,290 L274.59,291.75 L276,295 L276.91,297.6 L279,300 L280,305 L279.17,307.46 L278,311 L282,313 L284.86,314.25 L287.15,314.23 L290,315 L292.92,315.35 L297.38,316.15 L300,317 L303.36,318.29 L305.48,317.97 L308,319 L311.72,320.49 L314,322 L319,323 L315.87,321.31 L313.73,320.15 L310,318.75 L312.6,319.55 L315.27,320.6 L318.75,321.25 L319.92,323.44 L321.67,326.74 L322.5,328.75 L324.27,331.3 L327.5,333.75 L330.91,335.03 L335,335 L338.55,334.74 L340.9,334.73 L345.11,335.06 L347.5,335.5 L350.79,335.65 L353.97,336.03 L357.24,335.49 L360,336.25 L363.52,336.26 L366.3,336.63 L369.07,337.23 L372.5,337.5 L374.95,338.12 L377.87,339.3 L380,340 L382.64,340.46 L386.6,342.29 L390,342.5 L394.33,343.19 L397.5,343.75 L402.5,344.5 L404.27,343.83 L407.39,342.45 L410,341.25 L413.65,340.62 L416.64,340.2 L420,338.75 L423.16,338.17 L427.19,337.46 L430,337.5 L433.03,337.83 L436.02,337.67 L440,337 L444.04,336.15 L447.5,335.5 L449.68,334.5 L453.12,332.13 L455,331.25 L457.47,329.66 L460,327.66 L462.5,326.25 L463.23,323.88 L465,321.25 L462.5,317.5 L466.25,315 L469.63,314.77 L471.68,316.31 L475,316.25 L479.19,315.87 L482.5,315 L484.29,314.08 L488.22,313.25 L490,311.25 L493.64,310.16 L497.18,310 L500,310 L502.72,309.01 L505.32,306.12 L507.5,305 L510.31,305 L513.22,303.92 L516.75,302.62 L520,302.5 L522.93,301.32 L524.91,301.32 L527.61,300.34 L531.11,300.86 L533.75,300 L536.25,296.25 L533.69,293.83 L530,292.5 L527.4,291.47 L525.15,290.98 L523.16,290.06 L519.33,289.8 L517.5,288.75 L513.98,289.45 L511.51,290.37 L508.58,290.43 L505.14,290.83 L502.5,291.25 L500.26,289.13 L498.75,286.25 L500.03,283.2 L500.85,281.06 L502.5,278.75 L504.94,276.35 L506.99,275.15 L508.75,273 L511.04,273.09 L513.97,272.1 L517.5,272.5 L520.45,271.48 L523.69,271.22 L525.67,271.07 L528.75,270" fill="none" stroke="#000" stroke-width="3.3" stroke-linejoin="round" stroke-linecap="round"/>
<path d="M671.25,285 L669.94,287.31 L668.21,290.55 L667.5,292.5 L664.26,294.17 L663.1,295.2 L660,297.5 L659.25,300.17 L657.64,302.32 L657.5,305 L656.56,307.43 L655.34,309.49 L653.36,311.92 L652.5,315 L650.01,316.39 L647.64,316.91 L644.83,317.62 L641.9,317.69 L640,318.75 L639.95,321.9 L639.26,323.76 L638.71,326.75 L638.75,330 L636.34,332.55 L634.13,334.75 L632.5,336.25 L629.32,334.96 L625,335 L621.69,336.86 L618.75,338.75 L615.12,340.3 L613.53,341.5 L610,343.75 L606.81,342.77 L603.45,343.51 L600,342.5 L597.05,343.43 L594.38,345.89 L592.5,347.5 L589.28,348.54 L587.5,351.46 L585,352.5 L582.38,354.01 L580.21,355.22 L577.5,357.5 L575.62,360.69" fill="none" stroke="#000" stroke-width="3.3" stroke-linejoin="round" stroke-linecap="round"/>
<rect x="544.9" y="411.9" width="1.5" height="1.3" fill="#00008b"/>
<rect x="543.6" y="410.0" width="1.2" height="1.3" fill="#00008b"/>
<rect x="546.3" y="417.1" width="2" height="1.3" fill="#00008b"/>
<rect x="546.4" y="418.7" width="1.2" height="1.3" fill="#00008b"/>
<rect x="555.5" y="428.2" width="2" height="1.3" fill="#00008b"/>
<rect x="554.0" y="427.3" width="2" height="1.3" fill="#00008b"/>
<rect x="563.0" y="440.9" width="1.5" height="1.3" fill="#00008b"/>
<rect x="562.9" y="447.5" width="2" height="1.3" fill="#00008b"/>
<rect x="555.1" y="449.9" width="2" height="1.3" fill="#00008b"/>
<rect x="548.4" y="448.8" width="2" height="1.3" fill="#00008b"/>
<rect x="548.0" y="450.5" width="2" height="1.3" fill="#00008b"/>
<rect x="548.8" y="445.3" width="1.5" height="1.3" fill="#00008b"/>
<rect x="557.3" y="458.5" width="1.2" height="1.3" fill="#00008b"/>
<rect x="557.6" y="461.9" width="1.2" height="1.3" fill="#00008b"/>
<rect x="556.2" y="464.0" width="1.5" height="1.3" fill="#00008b"/>
<rect x="551.9" y="468.4" width="1.2" height="1.3" fill="#00008b"/>
<rect x="552.0" y="466.3" width="2" height="1.3" fill="#00008b"/>
<rect x="550.9" y="469.8" width="1.2" height="1.3" fill="#00008b"/>
<rect x="542.1" y="476.5" width="1.2" height="1.3" fill="#00008b"/>
<rect x="542.4" y="475.9" width="1.5" height="1.3" fill="#00008b"/>
<rect x="541.4" y="479.3" width="1.5" height="1.3" fill="#00008b"/>
<rect x="541.5" y="483.1" width="1.2" height="1.3" fill="#00008b"/>
<rect x="531.6" y="491.9" width="1.5" height="1.3" fill="#00008b"/>
<rect x="528.7" y="493.8" width="2" height="1.3" fill="#00008b"/>
<rect x="519.7" y="499.1" width="1.2" height="1.3" fill="#00008b"/>
<rect x="516.9" y="507.0" width="2" height="1.3" fill="#00008b"/>
<rect x="522.4" y="501.0" width="1.2" height="1.3" fill="#00008b"/>
<rect x="514.1" y="509.4" width="1.5" height="1.3" fill="#00008b"/>
<rect x="511.6" y="508.9" width="1.2" height="1.3" fill="#00008b"/>
<rect x="504.5" y="512.5" width="2" height="1.3" fill="#00008b"/>
<rect x="499.8" y="514.7" width="2" height="1.3" fill="#00008b"/>
<rect x="491.9" y="516.0" width="1.5" height="1.3" fill="#00008b"/>
<rect x="496.0" y="514.5" width="1.2" height="1.3" fill="#00008b"/>
<rect x="486.1" y="516.2" width="2" height="1.3" fill="#00008b"/>
<rect x="482.9" y="517.2" width="1.5" height="1.3" fill="#00008b"/>
<rect x="478.0" y="521.5" width="2" height="1.3" fill="#00008b"/>
<rect x="473.6" y="523.6" width="2" height="1.3" fill="#00008b"/>
<rect x="471.8" y="525.8" width="2" height="1.3" fill="#00008b"/>
<rect x="470.5" y="525.0" width="2" height="1.3" fill="#00008b"/>
<rect x="462.2" y="526.3" width="2" height="1.3" fill="#00008b"/>
<rect x="456.7" y="529.4" width="2" height="1.3" fill="#00008b"/>
<rect x="451.9" y="537.0" width="1.2" height="1.3" fill="#00008b"/>
<path d="M436.88,545 L438.12,541.88 L442.5,538.75 L447.5,537.5 L452.5,536.88 L456.88,537.5 L458.12,540 L456.25,543.75 L453.75,546.88 L450,550 L446.25,552.5 L441.88,552.5 L438.12,550.62 L436.5,547.5Z" fill="#d2f0ff"/>
<path d="M438.12,546.25 L442.5,544.38 L446.25,547.5 L448.75,550.62 L446.25,552.5 L441.88,552.5 L438.12,550.62Z" fill="#ffffc8"/>
<path d="M452.5,540 L456.88,538.12 L458.12,540 L456.25,543.75 L453.75,546.88 L451.88,545Z" fill="#ffffc8"/>
<path d="M436.88,545 L438.12,542.5 L440.62,543.12 L440,546.25 L436.88,546.88Z" fill="#a0d2ff"/>
<path d="M436.88,545 L438.12,541.88 L442.5,538.75 L447.5,537.5 L452.5,536.88 L456.88,537.5 L458.12,540 L456.25,543.75 L453.75,546.88 L450,550 L446.25,552.5 L441.88,552.5 L438.12,550.62 L436.5,547.5Z" fill="none" stroke="#00008b" stroke-width="1.2" stroke-linejoin="round"/>
<path d="M447.5,536.5 L451.25,535.5 L455.25,534.38" fill="none" stroke="#b4b4b4" stroke-width="1.9"/>
<rect x="440.0" y="527.5" width="1.3" height="1.3" fill="#00008b"/>
<rect x="474.4" y="541.3" width="1.3" height="1.3" fill="#00008b"/>
<rect x="482.5" y="544.0" width="1.3" height="1.3" fill="#00008b"/>
<rect x="501.3" y="527.5" width="1.3" height="1.3" fill="#00008b"/>
<rect x="508.8" y="530.6" width="1.3" height="1.3" fill="#00008b"/>
<rect x="508.1" y="569.4" width="1.3" height="1.3" fill="#00008b"/>
<rect x="461.3" y="562.5" width="1.3" height="1.3" fill="#00008b"/>
<rect x="468.1" y="564.1" width="1.3" height="1.3" fill="#00008b"/>
<rect x="473.8" y="565.0" width="1.3" height="1.3" fill="#00008b"/>
<rect x="463.1" y="568.1" width="1.3" height="1.3" fill="#00008b"/>
<rect x="465.6" y="570.4" width="1.3" height="1.3" fill="#00008b"/>
<rect x="471.3" y="568.4" width="1.3" height="1.3" fill="#00008b"/>
<rect x="470.6" y="571.9" width="1.3" height="1.3" fill="#00008b"/>
<rect x="467.5" y="575.0" width="1.3" height="1.3" fill="#00008b"/>
<rect x="458.8" y="574.8" width="1.3" height="1.3" fill="#00008b"/>
<rect x="463.1" y="571.3" width="1.3" height="1.3" fill="#00008b"/>
<rect x="472.5" y="566.6" width="1.3" height="1.3" fill="#00008b"/>
<path d="M482.5,576.25 L485,573.12 L490,571.88 L492.5,572.5 L490,575 L487.5,577.5 L483.75,578.12Z" fill="none" stroke="#00008b" stroke-width="1"/>
<path d="M546.25,494 L550,491 L553.75,491.75 L555.7,494.75 L553.75,500 L551.5,506 L549.25,512 L546.25,518 L544.75,520.25 L542.5,516.5 L539.5,512 L538.75,506 L541,501.5 L544,497Z" fill="#ffaa00"/>
<path d="M546.7,494 L550,491.3 L553.3,492.2 L552.7,496.25 L549.25,498.5 L546.25,497Z" fill="#ff6e00"/>
<path d="M546.25,494 L550,491 L553.75,491.75 L555.7,494.75 L553.75,500 L551.5,506 L549.25,512 L546.25,518 L544.75,520.25 L542.5,516.5 L539.5,512 L538.75,506 L541,501.5 L544,497Z" fill="none" stroke="#00008b" stroke-width="1.4" stroke-linejoin="round"/>
<path d="M562.75,496.25 L561.55,504.5" stroke="#000" stroke-width="3.2" stroke-linecap="round" fill="none"/>
<path d="M554.8,522.5 L549.25,528.95" stroke="#000" stroke-width="3.2" stroke-linecap="round" fill="none"/>
<path d="M538,546.5 L533.5,554" stroke="#000" stroke-width="3.2" stroke-linecap="round" fill="none"/>
<path d="M529.3,572.75 L529.3,582.5" stroke="#000" stroke-width="3.2" stroke-linecap="round" fill="none"/>
<rect x="555.4" y="487.4" width="1.4" height="1.4" fill="#00008b"/>
<rect x="568.6" y="485.0" width="1.4" height="1.4" fill="#00008b"/>
<rect x="569.5" y="484.1" width="1.4" height="1.4" fill="#00008b"/>
<rect x="532.9" y="505.4" width="1.4" height="1.4" fill="#00008b"/>
<rect x="533.6" y="507.6" width="1.4" height="1.4" fill="#00008b"/>
<rect x="532.1" y="506.9" width="1.4" height="1.4" fill="#00008b"/>
<rect x="550.1" y="513.6" width="1.4" height="1.4" fill="#00008b"/>
<rect x="550.9" y="518.1" width="1.4" height="1.4" fill="#00008b"/>
<rect x="551.6" y="518.9" width="1.4" height="1.4" fill="#00008b"/>
<path d="M442.5,571.25 L444.38,574 L446.25,579.38" stroke="#000" stroke-width="3.2" stroke-linecap="round" fill="none"/>
<rect x="573" y="452.5" width="104.7" height="127.5" fill="#fff" stroke="#000" stroke-width="1.2"/>
<path d="M667.81,459.69 L664.06,468.12" stroke="#000" stroke-width="3" stroke-linecap="round" fill="none"/>
<path d="M658.44,476.56 L653.75,485.94" stroke="#000" stroke-width="3" stroke-linecap="round" fill="none"/>
<path d="M652.44,495.31 L652.44,505.62" stroke="#000" stroke-width="3" stroke-linecap="round" fill="none"/>
<path d="M651.88,521.56 L648.12,530.94" stroke="#000" stroke-width="3" stroke-linecap="round" fill="none"/>
<path d="M635.94,546.88 L628.44,554" stroke="#000" stroke-width="3" stroke-linecap="round" fill="none"/>
<path d="M614.38,573.5 L605,575.38" stroke="#000" stroke-width="3" stroke-linecap="round" fill="none"/>
<path d="M584,549.12 L584.38,560" stroke="#000" stroke-width="3" stroke-linecap="round" fill="none"/>
<path d="M596.56,517.81 L595.62,526.62" stroke="#000" stroke-width="3" stroke-linecap="round" fill="none"/>
<path d="M589.06,492.5 L594.12,501.5" stroke="#000" stroke-width="3" stroke-linecap="round" fill="none"/>
<clipPath id="ins"><rect x="573.2" y="452.5" width="104.5" height="127.5"/></clipPath><g clip-path="url(#ins)">
<path d="M573.3,452.5 L573.3,458.12 L576.75,460.38 L583.88,460 L586.5,460.38 L589.5,461.5 L592.5,461.5 L594,463 L593.25,465.25 L594.75,467.5 L596.25,468.62 L597.75,466.75 L598.5,464.12 L600,462.25 L603,460.75 L607.5,459.25 L612,458.88 L615,457.75 L618,456.25 L619.5,458.5 L622.5,457.75 L624.75,455.5 L627,454 L630,453.62 L633,452.5Z" fill="#ffe132"/>
<path d="M609,452.5 L625.5,452.5 L624,454.15 L618,454.38 L612,455.12 L609,454Z" fill="#ffaa00"/>
<path d="M573.3,452.5 L597.75,452.5 L595.5,456.25 L594.75,459.25 L592.5,461.5 L589.5,461.5 L586.5,460.38 L583.88,460 L576.75,460.38 L573.3,458.12Z" fill="#ffffc8"/>
<path d="M573.3,452.5 L578.25,452.65 L579.75,454.75 L584.25,455.12 L588.75,455.5 L590.25,458.5 L588,460 L583.88,460 L576.75,459.25 L573.3,457Z" fill="#d2f0ff"/>
<path d="M574.5,455.5 L578.25,455.88 L582.75,457.38 L584.25,459.25 L579,459.25 L574.5,457.38Z" fill="#a0d2ff"/>
<path d="M600,461.12 L603,458.5 L606,457.75 L609,458.5 L607.5,459.25 L603,460.75Z" fill="#ffffc8"/>
<path d="M594.15,463 L597.45,463.38 L597.6,466.75 L596.25,468.62 L594.75,467.5 L593.4,465.25Z" fill="#a0d2ff"/>
<path d="M605.25,453.25 L602.25,455.12 L599.25,457.38 L595.5,460.38 L593.4,462.4" fill="none" stroke="#b9b9b9" stroke-width="1.9"/>
<path d="M619.12,455.5 L622.5,454.9 L623.62,456.62 L620.25,457.6Z" fill="#b9b9b9"/>
<path d="M583.88,460 L586.5,460.38 L589.5,461.5 L592.5,461.5 L594,463 L593.25,465.25 L594.75,467.5 L596.25,468.62 L597.75,466.75 L598.5,464.12 L600,462.25 L603,460.75 L607.5,459.25 L612,458.88 L615,457.75 L618,456.25 L619.5,458.5 L622.5,457.75 L624.75,455.5 L627,454 L630,453.62" fill="none" stroke="#00008b" stroke-width="1.5" stroke-linejoin="round"/>
<path d="M573.6,457.9 L576.75,460.6 L579.75,461.5 L583.65,461.35" fill="none" stroke="#000" stroke-width="3.2" stroke-linecap="round" stroke-linejoin="round"/>
<path d="M586.12,476.12 L587.62,473.5 L590.25,471.62 L594,471.25 L597,470.88 L600.75,470.88 L601.88,472.38 L600,475 L598.5,478 L595.5,481 L592.5,482.5 L588.75,481.75 L586.5,479.5Z" fill="#d2f0ff"/>
<path d="M587.4,478.75 L590.25,476.88 L593.25,478 L595.12,481 L592.5,482.5 L588.75,481.75 L586.88,479.88Z" fill="#ffffc8"/>
<path d="M598.12,472 L600.9,471.25 L601.8,472.45 L600,475 L598.88,476.88 L597.75,474.25Z" fill="#ffffc8"/>
<path d="M586.12,476.12 L587.62,473.5 L590.25,471.62 L594,471.25 L597,470.88 L600.75,470.88 L601.88,472.38 L600,475 L598.5,478 L595.5,481 L592.5,482.5 L588.75,481.75 L586.5,479.5Z" fill="none" stroke="#00008b" stroke-width="1.5" stroke-linejoin="round"/>
<path d="M594.75,470.27 L597.15,469.75 L599.62,469.3" fill="none" stroke="#b9b9b9" stroke-width="1.7"/>
</g>
<rect x="573" y="452.5" width="104.7" height="127.5" fill="none" stroke="#000" stroke-width="1.2"/>
<rect x="588.8" y="463.8" width="1.5" height="1.5" fill="#00008b"/>
<rect x="613.5" y="473.7" width="1.5" height="1.5" fill="#00008b"/>
<rect x="618.8" y="475.7" width="1.5" height="1.5" fill="#00008b"/>
<rect x="569.7" y="484.3" width="1.5" height="1.5" fill="#00008b"/>
<path d="M659.38,452.75 L662.19,455.94 L665.94,454.06 L666.88,452.75Z" fill="#ffaa00" stroke="#00008b" stroke-width="1"/>
<ellipse cx="622.4" cy="497.8" rx="4" ry="2" transform="rotate(-20 622.4 497.8)" fill="none" stroke="#00008b" stroke-width="1"/>
<rect x="607.4" y="490.0" width="1.2" height="1.3" fill="#00008b"/>
<rect x="604.8" y="493.3" width="1.6" height="1.3" fill="#00008b"/>
<rect x="610.1" y="496.4" width="1.2" height="1.3" fill="#00008b"/>
<rect x="604.4" y="492.4" width="1.2" height="1.3" fill="#00008b"/>
<rect x="606.5" y="493.4" width="1.2" height="1.3" fill="#00008b"/>
<rect x="612.6" y="489.8" width="1.2" height="1.3" fill="#00008b"/>
<rect x="610.6" y="493.7" width="1.2" height="1.3" fill="#00008b"/>
<rect x="610.0" y="492.1" width="1.2" height="1.3" fill="#00008b"/>
<rect x="604.5" y="496.0" width="1.6" height="1.3" fill="#00008b"/>
<rect x="608.4" y="493.3" width="1.6" height="1.3" fill="#00008b"/>
<rect x="635.9" y="466.6" width="1.2" height="1.3" fill="#00008b"/>
<rect x="636.0" y="466.4" width="1.6" height="1.3" fill="#00008b"/>
<rect x="632.8" y="466.8" width="1.2" height="1.3" fill="#00008b"/>
<rect x="636.2" y="465.8" width="2.2" height="1.3" fill="#00008b"/>
<rect x="625.8" y="530.5" width="2.2" height="1.3" fill="#00008b"/>
<rect x="622.7" y="527.6" width="1.2" height="1.3" fill="#00008b"/>
<rect x="625.2" y="527.6" width="1.6" height="1.3" fill="#00008b"/>
<rect x="623.9" y="535.9" width="2.2" height="1.3" fill="#00008b"/>
<rect x="622.2" y="537.2" width="1.2" height="1.3" fill="#00008b"/>
<rect x="623.8" y="526.5" width="1.6" height="1.3" fill="#00008b"/>
<rect x="621.1" y="530.8" width="1.2" height="1.3" fill="#00008b"/>
<rect x="627.2" y="525.4" width="1.6" height="1.3" fill="#00008b"/>
<rect x="622.6" y="529.0" width="2.2" height="1.3" fill="#00008b"/>
<rect x="624.3" y="530.4" width="1.2" height="1.3" fill="#00008b"/>
<rect x="627.1" y="530.6" width="1.2" height="1.3" fill="#00008b"/>
<rect x="620.5" y="533.6" width="2.2" height="1.3" fill="#00008b"/>
<rect x="622.1" y="529.4" width="1.6" height="1.3" fill="#00008b"/>
<rect x="620.2" y="530.4" width="1.2" height="1.3" fill="#00008b"/>
<rect x="624.6" y="530.9" width="1.2" height="1.3" fill="#00008b"/>
<rect x="625.8" y="526.1" width="1.2" height="1.3" fill="#00008b"/>
<rect x="623.0" y="536.4" width="2.2" height="1.3" fill="#00008b"/>
<rect x="620.6" y="530.3" width="1.6" height="1.3" fill="#00008b"/>
<rect x="626.6" y="535.1" width="1.6" height="1.3" fill="#00008b"/>
<rect x="625.3" y="537.3" width="2.2" height="1.3" fill="#00008b"/>
<rect x="627.2" y="526.4" width="1.2" height="1.3" fill="#00008b"/>
<rect x="621.1" y="533.0" width="1.2" height="1.3" fill="#00008b"/>
<rect x="623.6" y="532.1" width="1.6" height="1.3" fill="#00008b"/>
<rect x="622.1" y="526.3" width="1.6" height="1.3" fill="#00008b"/>
<rect x="624.6" y="528.6" width="1.2" height="1.3" fill="#00008b"/>
<rect x="625.2" y="531.1" width="1.2" height="1.3" fill="#00008b"/>
<rect x="623.4" y="535.8" width="2.2" height="1.3" fill="#00008b"/>
<rect x="623.0" y="529.5" width="2.2" height="1.3" fill="#00008b"/>
<rect x="624.8" y="525.2" width="1.2" height="1.3" fill="#00008b"/>
<rect x="627.4" y="530.2" width="1.2" height="1.3" fill="#00008b"/>
<rect x="634.5" y="526.9" width="1.2" height="1.3" fill="#00008b"/>
<rect x="637.9" y="533.3" width="1.6" height="1.3" fill="#00008b"/>
<rect x="638.6" y="527.2" width="1.2" height="1.3" fill="#00008b"/>
<rect x="638.6" y="528.2" width="1.6" height="1.3" fill="#00008b"/>
<rect x="643.7" y="534.2" width="2.2" height="1.3" fill="#00008b"/>
<rect x="631.2" y="537.4" width="2.2" height="1.3" fill="#00008b"/>
<rect x="636.6" y="530.3" width="1.2" height="1.3" fill="#00008b"/>
<rect x="630.9" y="530.7" width="1.6" height="1.3" fill="#00008b"/>
<rect x="636.6" y="535.3" width="1.2" height="1.3" fill="#00008b"/>
<rect x="632.5" y="538.7" width="1.6" height="1.3" fill="#00008b"/>
<rect x="631.6" y="533.4" width="1.2" height="1.3" fill="#00008b"/>
<rect x="640.7" y="530.2" width="1.2" height="1.3" fill="#00008b"/>
<rect x="639.8" y="529.7" width="1.6" height="1.3" fill="#00008b"/>
<rect x="643.0" y="530.9" width="1.2" height="1.3" fill="#00008b"/>
<rect x="637.4" y="536.5" width="1.6" height="1.3" fill="#00008b"/>
<rect x="638.9" y="534.3" width="1.2" height="1.3" fill="#00008b"/>
<rect x="641.5" y="537.0" width="1.2" height="1.3" fill="#00008b"/>
<rect x="632.4" y="532.7" width="1.2" height="1.3" fill="#00008b"/>
<rect x="644.2" y="536.6" width="2.2" height="1.3" fill="#00008b"/>
<rect x="633.3" y="535.3" width="1.6" height="1.3" fill="#00008b"/>
<rect x="636.1" y="538.5" width="1.6" height="1.3" fill="#00008b"/>
<rect x="643.7" y="531.0" width="1.2" height="1.3" fill="#00008b"/>
<rect x="630.9" y="532.4" width="1.6" height="1.3" fill="#00008b"/>
<rect x="632.4" y="534.4" width="1.2" height="1.3" fill="#00008b"/>
<rect x="636.6" y="534.8" width="1.2" height="1.3" fill="#00008b"/>
<rect x="631.9" y="539.1" width="2.2" height="1.3" fill="#00008b"/>
<rect x="630.9" y="547.3" width="2.2" height="1.3" fill="#00008b"/>
<rect x="632.9" y="543.2" width="1.6" height="1.3" fill="#00008b"/>
<rect x="617.9" y="549.9" width="2.2" height="1.3" fill="#00008b"/>
<rect x="624.9" y="547.3" width="1.2" height="1.3" fill="#00008b"/>
<rect x="629.8" y="539.7" width="1.2" height="1.3" fill="#00008b"/>
<rect x="616.8" y="545.3" width="2.2" height="1.3" fill="#00008b"/>
<rect x="631.4" y="539.4" width="2.2" height="1.3" fill="#00008b"/>
<rect x="628.6" y="542.1" width="1.2" height="1.3" fill="#00008b"/>
<rect x="616.7" y="548.0" width="1.2" height="1.3" fill="#00008b"/>
<rect x="626.1" y="549.8" width="2.2" height="1.3" fill="#00008b"/>
<rect x="634.7" y="540.1" width="1.2" height="1.3" fill="#00008b"/>
<rect x="616.8" y="540.3" width="1.2" height="1.3" fill="#00008b"/>
<rect x="630.6" y="541.8" width="2.2" height="1.3" fill="#00008b"/>
<rect x="631.9" y="538.3" width="1.6" height="1.3" fill="#00008b"/>
<rect x="633.1" y="546.2" width="2.2" height="1.3" fill="#00008b"/>
<rect x="631.8" y="549.0" width="1.2" height="1.3" fill="#00008b"/>
<rect x="626.2" y="544.4" width="1.2" height="1.3" fill="#00008b"/>
<rect x="632.6" y="547.7" width="1.2" height="1.3" fill="#00008b"/>
<rect x="630.8" y="539.5" width="1.2" height="1.3" fill="#00008b"/>
<rect x="625.1" y="547.0" width="1.2" height="1.3" fill="#00008b"/>
<rect x="622.4" y="544.3" width="2.2" height="1.3" fill="#00008b"/>
<rect x="631.0" y="538.9" width="1.2" height="1.3" fill="#00008b"/>
<rect x="620.9" y="541.1" width="1.2" height="1.3" fill="#00008b"/>
<rect x="625.8" y="544.9" width="1.2" height="1.3" fill="#00008b"/>
<rect x="603.7" y="545.0" width="1.2" height="1.3" fill="#00008b"/>
<rect x="609.3" y="543.0" width="2.2" height="1.3" fill="#00008b"/>
<rect x="605.2" y="540.5" width="1.6" height="1.3" fill="#00008b"/>
<rect x="614.5" y="548.4" width="1.2" height="1.3" fill="#00008b"/>
<rect x="612.6" y="539.2" width="1.2" height="1.3" fill="#00008b"/>
<rect x="602.6" y="541.4" width="1.2" height="1.3" fill="#00008b"/>
<rect x="603.4" y="540.1" width="1.6" height="1.3" fill="#00008b"/>
<rect x="611.4" y="548.4" width="1.2" height="1.3" fill="#00008b"/>
<rect x="614.9" y="545.3" width="1.6" height="1.3" fill="#00008b"/>
<rect x="597.0" y="548.3" width="2.2" height="1.3" fill="#00008b"/>
<rect x="598.7" y="549.1" width="2.2" height="1.3" fill="#00008b"/>
<rect x="613.7" y="539.5" width="1.2" height="1.3" fill="#00008b"/>
<rect x="609.8" y="562.3" width="2.2" height="1.3" fill="#00008b"/>
<rect x="610.6" y="560.5" width="1.6" height="1.3" fill="#00008b"/>
<rect x="609.5" y="561.8" width="1.6" height="1.3" fill="#00008b"/>
<rect x="611.5" y="562.4" width="1.2" height="1.3" fill="#00008b"/>
<rect x="610.8" y="562.9" width="1.6" height="1.3" fill="#00008b"/>
<rect x="611.3" y="559.5" width="1.2" height="1.3" fill="#00008b"/>
<rect x="619.8" y="474.0" width="1.6" height="1.3" fill="#00008b"/>
<rect x="615.9" y="476.3" width="1.2" height="1.3" fill="#00008b"/>
<rect x="615.9" y="474.1" width="2.2" height="1.3" fill="#00008b"/>
<rect x="643.2" y="499.4" width="1.6" height="1.3" fill="#00008b"/>
<rect x="639.9" y="498.4" width="2.2" height="1.3" fill="#00008b"/>
<rect x="629.6" y="509.0" width="1.2" height="1.3" fill="#00008b"/>
<rect x="589.4" y="533.8" width="1.2" height="1.3" fill="#00008b"/>
<rect x="608.9" y="569.8" width="1.2" height="1.3" fill="#00008b"/>
<text x="627.1" y="565.3" font-size="5.4" font-weight="bold">South China</text>
<text x="627.1" y="571.3" font-size="5.4" font-weight="bold">Sea Islands</text>
<text x="627.1" y="577.3" font-size="5.4" font-weight="bold">Scale 1:28 000 000</text>
<text x="125.7" y="577" font-size="8.7" font-weight="bold" textLength="76.8" lengthAdjust="spacingAndGlyphs">Scale 1:14 000 000</text>
</g>
<rect x="119.7" y="217.7" width="560.5999999999999" height="364.3" fill="none" stroke="#000" stroke-width="1.3"/>
<path d="M182.00,217.7v-12M182.00,582v12M271.00,217.7v-12M271.00,582v12M360.00,217.7v-12M360.00,582v12M449.00,217.7v-12M449.00,582v12M538.00,217.7v-12M538.00,582v12M627.00,217.7v-12M627.00,582v12M119.7,581.65h-6M680.3,581.65h6M119.7,537.30h-12M680.3,537.30h12M119.7,492.95h-6M680.3,492.95h6M119.7,448.60h-12M680.3,448.60h12M119.7,404.25h-6M680.3,404.25h6M119.7,359.90h-12M680.3,359.90h12M119.7,315.55h-6M680.3,315.55h6M119.7,271.20h-12M680.3,271.20h12M119.7,226.85h-6M680.3,226.85h6" stroke="#000" stroke-width="1.3" fill="none"/>
<text x="182.0" y="618.8" font-size="16.3" text-anchor="middle" textLength="28.8" lengthAdjust="spacingAndGlyphs">80E</text>
<text x="271.0" y="618.8" font-size="16.3" text-anchor="middle" textLength="28.8" lengthAdjust="spacingAndGlyphs">90E</text>
<text x="360.0" y="618.8" font-size="16.3" text-anchor="middle" textLength="37.2" lengthAdjust="spacingAndGlyphs">100E</text>
<text x="449.0" y="618.8" font-size="16.3" text-anchor="middle" textLength="37.2" lengthAdjust="spacingAndGlyphs">110E</text>
<text x="538.0" y="618.8" font-size="16.3" text-anchor="middle" textLength="37.2" lengthAdjust="spacingAndGlyphs">120E</text>
<text x="627.0" y="618.8" font-size="16.3" text-anchor="middle" textLength="37.2" lengthAdjust="spacingAndGlyphs">130E</text>
<text x="96.8" y="543.5" font-size="16.3" text-anchor="end" textLength="30.6" lengthAdjust="spacingAndGlyphs">20N</text>
<text x="96.8" y="454.8" font-size="16.3" text-anchor="end" textLength="30.6" lengthAdjust="spacingAndGlyphs">30N</text>
<text x="96.8" y="366.1" font-size="16.3" text-anchor="end" textLength="30.6" lengthAdjust="spacingAndGlyphs">40N</text>
<text x="96.8" y="277.4" font-size="16.3" text-anchor="end" textLength="30.6" lengthAdjust="spacingAndGlyphs">50N</text>
<text x="119.6" y="148" font-size="16" text-anchor="start" textLength="220.8" lengthAdjust="spacingAndGlyphs">2-m Air Temperature Anomaly</text>
<text x="119.6" y="172" font-size="16" text-anchor="start" textLength="218.4" lengthAdjust="spacingAndGlyphs">CMA-CPSv3 monthly forecast</text>
<text x="119.6" y="196" font-size="16" text-anchor="start" textLength="155.4" lengthAdjust="spacingAndGlyphs">Initial date: 20250901</text>
<text x="680.2" y="148" font-size="16" text-anchor="end" textLength="105.5" lengthAdjust="spacingAndGlyphs">Dates: 202509</text>
<text x="680.2" y="172" font-size="16" text-anchor="end" textLength="142.7" lengthAdjust="spacingAndGlyphs">Ensemble Size = 21</text>
<text x="680.2" y="196" font-size="16" text-anchor="end" textLength="84.8" lengthAdjust="spacingAndGlyphs">Units: degC</text>
<text x="400" y="630.4" font-size="11" text-anchor="middle" textLength="124" lengthAdjust="spacingAndGlyphs">Copyright © CEMC, CMA</text>
<rect x="227.10" y="642.3" width="24.66" height="19.0" fill="#00008b" stroke="#000" stroke-width=".6"/>
<rect x="251.76" y="642.3" width="24.66" height="19.0" fill="#0000cd" stroke="#000" stroke-width=".6"/>
<rect x="276.41" y="642.3" width="24.66" height="19.0" fill="#4169e1" stroke="#000" stroke-width=".6"/>
<rect x="301.07" y="642.3" width="24.66" height="19.0" fill="#1e90ff" stroke="#000" stroke-width=".6"/>
<rect x="325.73" y="642.3" width="24.66" height="19.0" fill="#00bfff" stroke="#000" stroke-width=".6"/>
<rect x="350.39" y="642.3" width="24.66" height="19.0" fill="#a0d2ff" stroke="#000" stroke-width=".6"/>
<rect x="375.04" y="642.3" width="24.66" height="19.0" fill="#d2f0ff" stroke="#000" stroke-width=".6"/>
<rect x="399.70" y="642.3" width="24.66" height="19.0" fill="#ffffc8" stroke="#000" stroke-width=".6"/>
<rect x="424.36" y="642.3" width="24.66" height="19.0" fill="#ffe132" stroke="#000" stroke-width=".6"/>
<rect x="449.01" y="642.3" width="24.66" height="19.0" fill="#ffaa00" stroke="#000" stroke-width=".6"/>
<rect x="473.67" y="642.3" width="24.66" height="19.0" fill="#ff6e00" stroke="#000" stroke-width=".6"/>
<rect x="498.33" y="642.3" width="24.66" height="19.0" fill="#ff0000" stroke="#000" stroke-width=".6"/>
<rect x="522.99" y="642.3" width="24.66" height="19.0" fill="#c80000" stroke="#000" stroke-width=".6"/>
<rect x="547.64" y="642.3" width="24.66" height="19.0" fill="#a02323" stroke="#000" stroke-width=".6"/>
<path d="M227.1,642.3L203,651.8L227.1,661.3Z" fill="#8a2be2" stroke="#000" stroke-width=".5"/>
<path d="M572.3,642.3L596.8,651.8L572.3,661.3Z" fill="#ff69b4" stroke="#000" stroke-width=".5"/>
<text x="227.1" y="673.4" font-size="8.5" text-anchor="middle" stroke="#000" stroke-width=".1">-5</text>
<text x="251.8" y="673.4" font-size="8.5" text-anchor="middle" stroke="#000" stroke-width=".1">-3</text>
<text x="276.4" y="673.4" font-size="8.5" text-anchor="middle" stroke="#000" stroke-width=".1">-2</text>
<text x="301.1" y="673.4" font-size="8.5" text-anchor="middle" stroke="#000" stroke-width=".1">-1.5</text>
<text x="325.7" y="673.4" font-size="8.5" text-anchor="middle" stroke="#000" stroke-width=".1">-1</text>
<text x="350.4" y="673.4" font-size="8.5" text-anchor="middle" stroke="#000" stroke-width=".1">-0.5</text>
<text x="375.0" y="673.4" font-size="8.5" text-anchor="middle" stroke="#000" stroke-width=".1">-0.2</text>
<text x="399.7" y="673.4" font-size="8.5" text-anchor="middle" stroke="#000" stroke-width=".1">0</text>
<text x="424.4" y="673.4" font-size="8.5" text-anchor="middle" stroke="#000" stroke-width=".1">0.2</text>
<text x="449.0" y="673.4" font-size="8.5" text-anchor="middle" stroke="#000" stroke-width=".1">0.5</text>
<text x="473.7" y="673.4" font-size="8.5" text-anchor="middle" stroke="#000" stroke-width=".1">1</text>
<text x="498.3" y="673.4" font-size="8.5" text-anchor="middle" stroke="#000" stroke-width=".1">1.5</text>
<text x="523.0" y="673.4" font-size="8.5" text-anchor="middle" stroke="#000" stroke-width=".1">2</text>
<text x="547.6" y="673.4" font-size="8.5" text-anchor="middle" stroke="#000" stroke-width=".1">3</text>
<text x="572.3" y="673.4" font-size="8.5" text-anchor="middle" stroke="#000" stroke-width=".1">5</text>
</svg></body></html>
